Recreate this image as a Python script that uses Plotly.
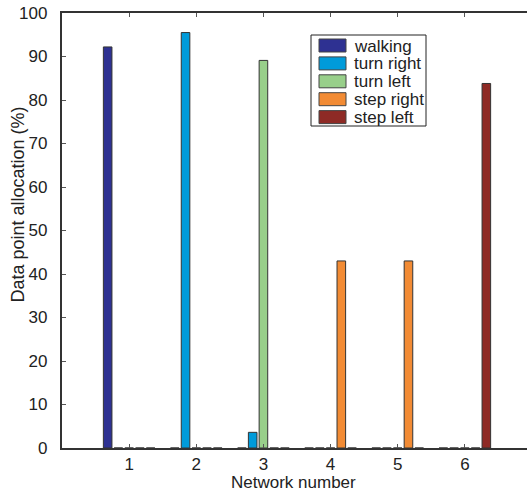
import plotly.graph_objects as go

networks = [1, 2, 3, 4, 5, 6]
series_names = ["walking", "turn right", "turn left", "step right", "step left"]
walking = [92.2, 0, 0, 0, 0, 0]
turn_right = [0, 95.5, 3.6, 0, 0, 0]
turn_left = [0, 0, 89.1, 0, 0, 0]
step_right = [0, 0, 0, 43.0, 43.0, 0]
step_left = [0, 0, 0, 0, 0, 83.8]
colors = ["#2e3192", "#009bda", "#98cf8a", "#f28b34", "#8e2a25"]
y_ticks = list(range(0, 101, 10))

# figure extends a little past the 527 px window, like the reference (x axis 0..7)
W, H = 532, 494
ML, MR, MT, MB = 62, 0, 13, 46
PW, PH = W - ML - MR, H - MT - MB


def px_x(p):
    return (p - ML) / PW


def px_y(p):
    return (H - MB - p) / PH


fig = go.Figure()
for name, vals, col in zip(series_names,
                           [walking, turn_right, turn_left, step_right, step_left],
                           colors):
    fig.add_trace(go.Bar(x=networks, y=vals, name=name,
                         marker=dict(color=col, line=dict(color="#333333", width=1))))

font_family = "Liberation Sans, Arial, sans-serif"
xr = [0, 7]

# manual legend (box, swatches, labels)
shapes = [dict(type="rect", xref="paper", yref="paper",
               x0=px_x(311), x1=px_x(426), y0=px_y(126), y1=px_y(35),
               line=dict(color="#222222", width=1), fillcolor="white", layer="above")]
annotations = []
for i, (name, col) in enumerate(zip(series_names, colors)):
    cy = 45.5 + 17.9 * i
    shapes.append(dict(type="rect", xref="paper", yref="paper",
                       x0=px_x(319), x1=px_x(346), y0=px_y(cy + 6.5), y1=px_y(cy - 6.5),
                       line=dict(color="#444444", width=1), fillcolor=col, layer="above"))
    annotations.append(dict(xref="paper", yref="paper", x=px_x(352), y=px_y(cy + 0.5),
                            xanchor="left", yanchor="middle", text=name, showarrow=False,
                            font=dict(size=17, family=font_family, color="#222222")))

# axis titles
annotations.append(dict(xref="paper", yref="paper", x=px_x(293), y=px_y(482),
                        xanchor="center", yanchor="middle", text="Network number",
                        showarrow=False, font=dict(size=17, family=font_family, color="#222222")))
annotations.append(dict(xref="paper", yref="paper", x=px_x(17.5), y=px_y(205),
                        xanchor="center", yanchor="middle", text="Data point allocation (%)",
                        textangle=-90, showarrow=False,
                        font=dict(size=18, family=font_family, color="#222222")))

fig.update_layout(
    width=W, height=H,
    margin=dict(l=ML, r=MR, t=MT, b=MB),
    paper_bgcolor="white", plot_bgcolor="white",
    barmode="group", bargap=0.2, bargroupgap=0.2,
    font=dict(family=font_family, size=17, color="#222222"),
    showlegend=False,
    shapes=shapes, annotations=annotations,
    xaxis=dict(range=xr, tickvals=networks, ticktext=[str(n) for n in networks],
               ticks="inside", ticklen=4, tickcolor="#555555",
               tickfont=dict(size=17), automargin=False,
               showline=True, linecolor="#333333", linewidth=1.5, mirror="ticks",
               showgrid=False, zeroline=False, ticklabelstandoff=0),
    yaxis=dict(range=[0, 100], tickvals=y_ticks,
               ticktext=[str(v) + "\u00a0\u00a0" for v in y_ticks],
               ticks="inside", ticklen=4, tickcolor="#555555",
               tickfont=dict(size=17), automargin=False,
               showline=True, linecolor="#333333", linewidth=1.5,
               showgrid=False, zeroline=False),
)
fig.write_html("out.html",
               post_script="document.documentElement.style.overflow='hidden';"
                           "document.body.style.overflow='hidden';"
                           "document.body.style.margin='0';"
                           "var gd=document.getElementById('{plot_id}');"
                           "gd.style.position='fixed';gd.style.left='0px';gd.style.top='0px';")
